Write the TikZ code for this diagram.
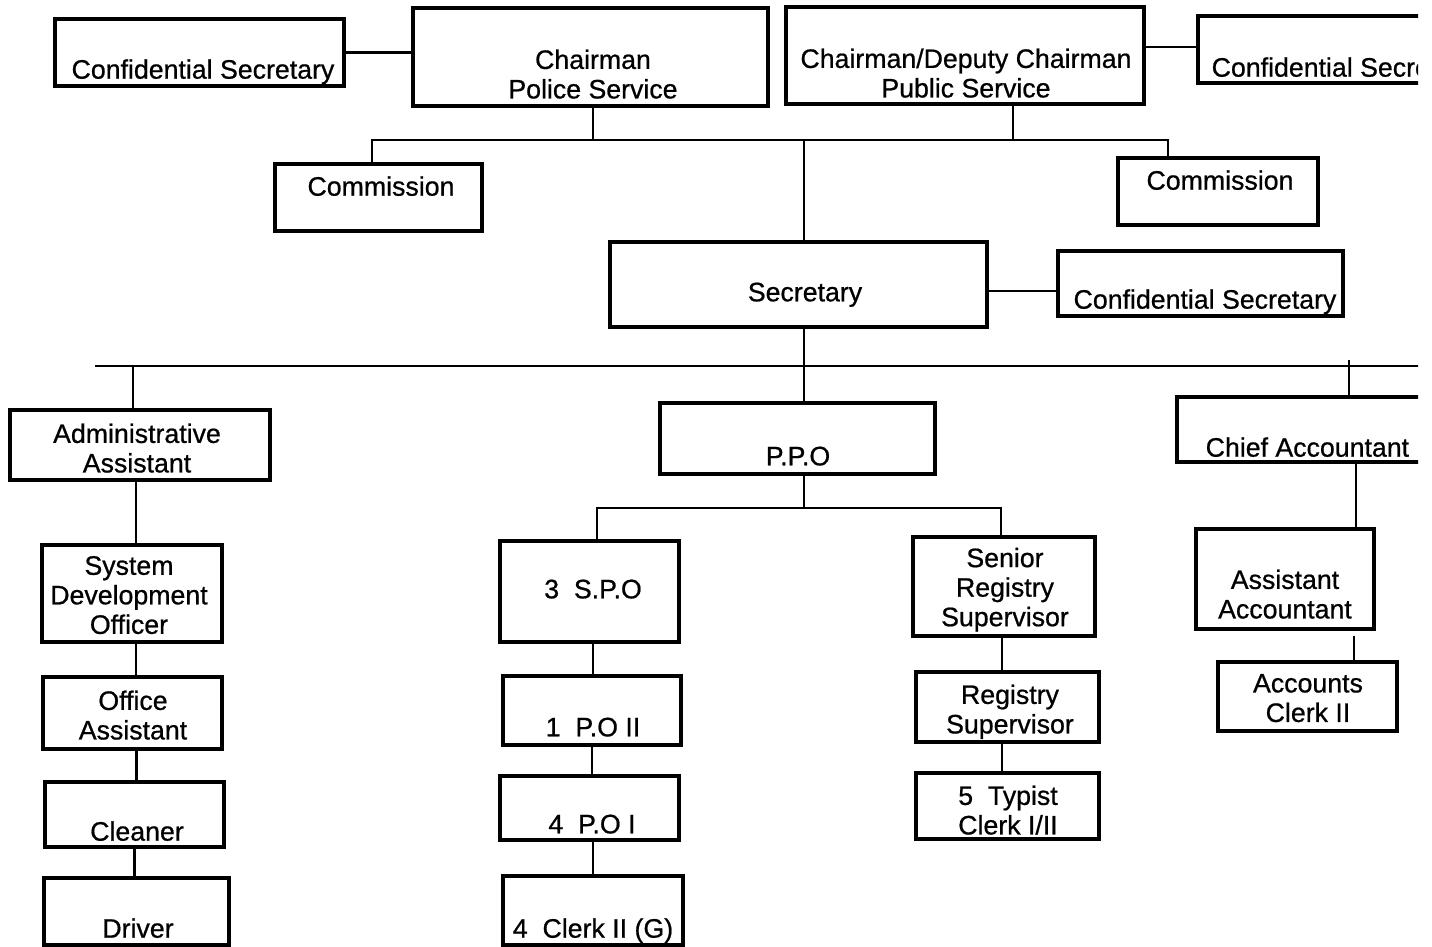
\documentclass[tikz,border=0pt]{standalone}
\usepackage{fontspec}
\setmainfont{Liberation Sans}[BoldFont={Liberation Sans}, BoldFeatures={FakeBold=0.7}]
\usetikzlibrary{positioning}
\tikzset{box/.style={draw, line width=0.95pt, inner sep=0pt},
  lbl/.style={align=center, inner sep=0pt, text depth=0pt, font=\fontsize{7.6}{8.4}\selectfont\bfseries},
  link/.style={line width=0.75pt}}

\begin{document}
\begin{tikzpicture}[x=0.1mm, y=-0.1mm]
  \useasboundingbox (0,0) rectangle (1432,947);
  \clip (0,0) rectangle (1418,947);
  % chairmen and their secretaries
  \node[box, minimum width=28.9mm, minimum height=6.7mm] (csA) at (199.5,52.5) {};
  \node[lbl] (csA-t) at (203,69) {Confidential Secretary};
  \node[box, minimum width=35.5mm, minimum height=9.8mm] (chPol) at (590.5,57) {};
  \node[lbl] (chPol-t) at (593,74) {Chairman\\Police Service};
  \node[box, minimum width=35.8mm, minimum height=9.7mm] (chPub) at (965,55.5) {};
  \node[lbl] (chPub-t) at (966,73) {Chairman/Deputy Chairman\\Public Service};
  \node[box, minimum width=30mm, minimum height=6.7mm] (csB) at (1348,49.5) {};
  \node[lbl, anchor=west] (csB-t) at (1211,67) {Confidential Secretary};
  \draw[link] (csA.east) -- (csA.east -| chPol.west);
  \draw[link] ([yshift=0.85mm]chPub.east) -- ([yshift=0.85mm]chPub.east -| csB.west);
  % commissions
  \node[box, minimum width=20.7mm, minimum height=6.7mm] (comA) at (378.5,197.5) {};
  \node[lbl] (comA-t) at (381,186) {Commission};
  \node[box, minimum width=20mm, minimum height=6.7mm] (comB) at (1218,191.5) {};
  \node[lbl] (comB-t) at (1220,180) {Commission};
  \coordinate (busA) at (804,140);
  \draw[link] ([xshift=-0.65mm]comA.north) |- (busA) -| ([xshift=-5mm]comB.north);
  \draw[link] ([xshift=0.25mm]chPol.south) -- ([xshift=0.25mm]chPol.south |- busA);
  \draw[link] ([xshift=4.8mm]chPub.south) -- ([xshift=4.8mm]chPub.south |- busA);
  % secretary
  \node[box, minimum width=37.7mm, minimum height=8.5mm] (sec) at (798.5,284.5) {};
  \node[lbl] (sec-t) at (805,292) {Secretary};
  \node[box, minimum width=28.5mm, minimum height=6.5mm] (csC) at (1200.5,283.5) {};
  \node[lbl] (csC-t) at (1205,299) {Confidential Secretary};
  \draw[link] (busA) -- (busA |- sec.north);
  \draw[link] ([yshift=-0.65mm]sec.east) -- ([yshift=-0.65mm]sec.east -| csC.west);
  % divisions
  \coordinate (busB) at (804,366);
  \coordinate (busBl) at (95,366);
  \coordinate (busBr) at (1430,366);
  \draw[link] (busBl) -- (busBr);
  \node[box, minimum width=26mm, minimum height=7mm] (adm) at (140,445) {};
  \node[lbl] (adm-t) at (137,448) {Administrative\\Assistant};
  \node[box, minimum width=27.5mm, minimum height=7.1mm] (ppo) at (797.5,438.5) {};
  \node[lbl] (ppo-t) at (798,456) {P.P.O};
  \node[box, minimum width=30mm, minimum height=6.5mm] (chf) at (1327,429.5) {};
  \node[lbl, anchor=west] (chf-t) at (1205,447) {Chief Accountant};
  \draw[link] ([xshift=-0.7mm]adm.north) -- ([xshift=-0.7mm]adm.north |- busB);
  \draw[link] (sec.south -| busB) -- (ppo.north -| busB);
  \draw[link] ([xshift=2.2mm]chf.north) -- ([xshift=2.2mm,yshift=0.6mm]chf.north |- busB);
  % admin column
  \node[box, minimum width=18mm, minimum height=9.7mm] (sdo) at (132,593.5) {};
  \node[lbl] (sdo-t) at (129,595) {System\\Development\\Officer};
  \node[box, minimum width=17.9mm, minimum height=7.2mm] (ofa) at (132.5,713) {};
  \node[lbl] (ofa-t) at (133,715) {Office\\Assistant};
  \node[box, minimum width=17.9mm, minimum height=6.5mm] (cln) at (134.5,814.5) {};
  \node[lbl] (cln-t) at (137,831) {Cleaner};
  \node[box, minimum width=18.5mm, minimum height=6.7mm] (drv) at (136.5,911.5) {};
  \node[lbl] (drv-t) at (138,928) {Driver};
  \draw[link] ([xshift=-0.4mm]adm.south) -- ([xshift=-0.4mm]adm.south |- sdo.north);
  \draw[link] ([xshift=0.4mm]sdo.south) -- ([xshift=0.4mm]sdo.south |- ofa.north);
  \draw[link] ([xshift=0.4mm]ofa.south) -- ([xshift=0.4mm]ofa.south |- cln.north);
  \draw[link] (cln.south) -- (cln.south |- drv.north);
  % P.P.O column
  \coordinate (busC) at (804,508);
  \node[box, minimum width=17.9mm, minimum height=10.1mm] (spo) at (589.5,591.5) {};
  \node[lbl] (spo-t) at (593,589) {3~~S.P.O};
  \node[box, minimum width=17.8mm, minimum height=6.9mm] (poii) at (592,710.5) {};
  \node[lbl] (poii-t) at (593,727) {1~~P.O II};
  \node[box, minimum width=17.9mm, minimum height=6.4mm] (poi) at (589.5,808) {};
  \node[lbl] (poi-t) at (592,824) {4~~P.O I};
  \node[box, minimum width=18mm, minimum height=6.9mm] (clk) at (593,910.5) {};
  \node[lbl] (clk-t) at (593,928) {4~~Clerk II (G)};
  \node[box, minimum width=18.2mm, minimum height=9.9mm] (srs) at (1004,586.5) {};
  \node[lbl] (srs-t) at (1005,587) {Senior\\Registry\\Supervisor};
  \node[box, minimum width=18.3mm, minimum height=7mm] (rsv) at (1007.5,707) {};
  \node[lbl] (rsv-t) at (1010,709) {Registry\\Supervisor};
  \node[box, minimum width=18.3mm, minimum height=6.6mm] (typ) at (1007.5,806) {};
  \node[lbl] (typ-t) at (1008,810) {5~~Typist\\Clerk I/II};
  \draw[link] (ppo.south -| busC) -- (busC);
  \draw[link] ([xshift=0.75mm]spo.north) |- (busC) -| ([xshift=-0.3mm]srs.north);
  \draw[link] ([xshift=0.35mm]spo.south) -- ([xshift=0.35mm]spo.south |- poii.north);
  \draw[link] (poii.south) -- (poii.south |- poi.north);
  \draw[link] ([xshift=0.35mm]poi.south) -- ([xshift=0.35mm]poi.south |- clk.north);
  \draw[link] ([xshift=-0.2mm]srs.south) -- ([xshift=-0.2mm]srs.south |- rsv.north);
  \draw[link] ([xshift=-0.55mm]rsv.south) -- ([xshift=-0.55mm]rsv.south |- typ.north);
  % accounts column
  \node[box, minimum width=17.8mm, minimum height=10mm] (asa) at (1285,579) {};
  \node[lbl] (asa-t) at (1285,594) {Assistant\\Accountant};
  \node[box, minimum width=17.9mm, minimum height=6.9mm] (acl) at (1307.5,696.5) {};
  \node[lbl] (acl-t) at (1308,698) {Accounts\\Clerk II};
  \draw[link] ([xshift=2.9mm]chf.south) -- ([xshift=2.9mm]chf.south |- asa.north);
  \draw[link] ([xshift=6.9mm,yshift=-0.5mm]asa.south) -- ([xshift=6.9mm]asa.south |- acl.north);
\end{tikzpicture}
\end{document}
